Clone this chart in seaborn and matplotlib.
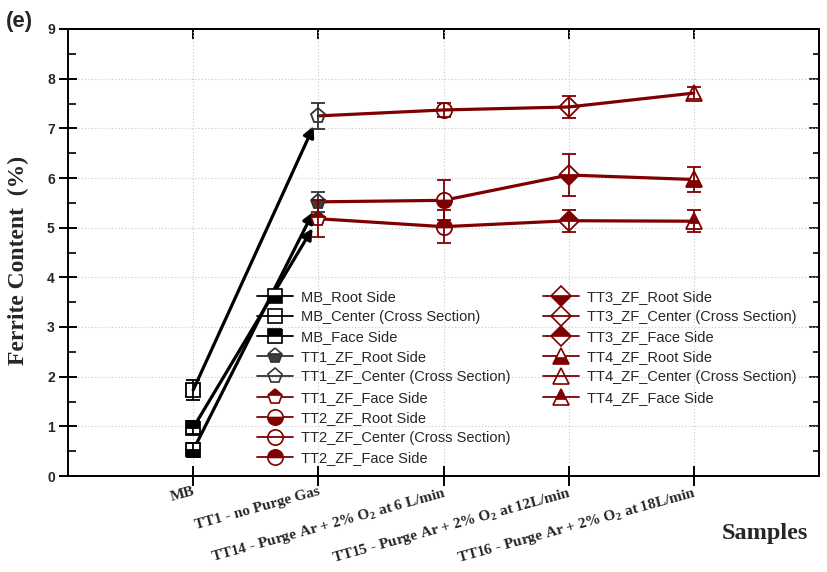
import numpy as np
import pandas as pd
import matplotlib
matplotlib.use("Agg")
import matplotlib.pyplot as plt
from matplotlib.lines import Line2D
from matplotlib.ticker import MultipleLocator
import seaborn as sns

# ---- data -------------------------------------------------------------
samples = ["MB", "TT1", "TT14", "TT15", "TT16"]
sample_labels = [
    "MB",
    "TT1 - no Purge Gas",
    "TT14 - Purge Ar + 2% O$_{\\mathbf{2}}$ at 6 L/min",
    "TT15 - Purge Ar + 2% O$_{\\mathbf{2}}$ at 12L/min",
    "TT16 - Purge Ar + 2% O$_{\\mathbf{2}}$ at 18L/min",
]
legend_prefix = ["MB", "TT1_ZF", "TT2_ZF", "TT3_ZF", "TT4_ZF"]
locations = ["Root Side", "Center (Cross Section)", "Face Side"]

root_vals = [0.52, 5.52, 5.55, 6.06, 5.97]
root_err = [0.14, 0.20, 0.40, 0.42, 0.26]
center_vals = [1.73, 7.25, 7.37, 7.43, 7.71]
center_err = [0.20, 0.27, 0.15, 0.23, 0.12]
face_vals = [0.97, 5.18, 5.02, 5.14, 5.13]
face_err = [0.13, 0.37, 0.33, 0.22, 0.22]

# ---- styling ----------------------------------------------------------
sns.set_theme(style="ticks")
plt.rcParams["font.family"] = ["Liberation Sans", "DejaVu Sans"]
plt.rcParams["mathtext.fontset"] = "custom"
plt.rcParams["mathtext.rm"] = "Liberation Serif:bold"
plt.rcParams["mathtext.bf"] = "Liberation Serif:bold"

WINE = "#7f0000"
GREY = "#333333"
markers = ["s", "p", "o", "D", "^"]
msizes = [9.5, 11, 11, 10.5, 12]
fills = ["bottom", "none", "top"]


def colours(i, j):
    """Edge, fill and line colour for sample i at location j."""
    if i == 0:
        return "black", "black", "black"
    if i == 1 and j < 2:
        return GREY, "#3c3c3c", GREY
    return WINE, WINE, WINE


fig = plt.figure(figsize=(8.27, 5.72), dpi=100)
ax = fig.add_axes([68 / 827, 1 - 476 / 572, (819 - 68) / 827, (476 - 29) / 572])

x = np.arange(1, len(samples) + 1)
vals = [root_vals, center_vals, face_vals]
errs = [root_err, center_err, face_err]

# connecting lines across the purge-gas samples
df = pd.DataFrame({
    "pos": np.concatenate([x[1:]] * 3),
    "value": np.concatenate([v[1:] for v in vals]),
    "location": np.repeat(locations, len(samples) - 1),
})
sns.lineplot(data=df, x="pos", y="value", hue="location",
             palette={loc: WINE for loc in locations}, lw=2.3,
             legend=False, ax=ax, zorder=2)

# arrows from the base metal to TT1
for v in vals:
    ax.annotate("", xy=(x[1], v[1]), xytext=(x[0], v[0]),
                arrowprops=dict(arrowstyle="-|>", color="black", lw=2.3,
                                shrinkA=0, shrinkB=8, mutation_scale=16),
                zorder=3)

# markers with error bars
for j, (v, e, fs) in enumerate(zip(vals, errs, fills)):
    for i in range(len(samples)):
        ec, fc, _ = colours(i, j)
        ax.errorbar(x[i], v[i], yerr=e[i], fmt="none", ecolor=ec,
                    elinewidth=1.3, capsize=4.7, capthick=1.3, zorder=5)
        if fs == "none":
            ax.plot(x[i], v[i], marker=markers[i], ms=msizes[i],
                    mfc="none", mec=ec, mew=1.3, ls="none", zorder=4)
        else:
            ax.plot(x[i], v[i], marker=markers[i], ms=msizes[i],
                    fillstyle=fs, mfc=fc, mfcalt="white",
                    mec=ec, mew=1.3, ls="none", zorder=4)

# ---- axes -------------------------------------------------------------
ax.set_xlim(0, 6)
ax.set_ylim(0, 9)
ax.set_xticks(x)
ax.set_xticklabels(sample_labels, rotation=15.5, ha="right", va="top",
                   rotation_mode="anchor", fontfamily="Liberation Serif",
                   fontweight="bold", fontsize=11)
ax.yaxis.set_major_locator(MultipleLocator(1))
ax.yaxis.set_minor_locator(MultipleLocator(0.5))
for lab in ax.get_yticklabels():
    lab.set_fontweight("bold")
    lab.set_fontsize(10)
ax.tick_params(axis="x", direction="inout", length=14, width=1.4,
               pad=-0.5, top=False, color="black")
ax.tick_params(axis="y", which="major", direction="inout", length=13,
               width=1.4, pad=3, right=False, color="black")
ax.tick_params(axis="y", which="minor", direction="in", length=6,
               width=1.2, right=False, color="black")
for s in ax.spines.values():
    s.set_linewidth(1.4)
    s.set_color("black")

secx = ax.secondary_xaxis("top")
secx.set_xticks(x)
secx.set_xticklabels([])
secx.tick_params(direction="in", length=7, width=1.4, color="black")
secx.spines["top"].set_linewidth(1.4)

secy = ax.secondary_yaxis("right")
secy.yaxis.set_major_locator(MultipleLocator(1))
secy.yaxis.set_minor_locator(MultipleLocator(0.5))
secy.set_yticklabels([])
secy.tick_params(which="major", direction="in", length=7, width=1.2, color="black")
secy.tick_params(which="minor", direction="in", length=4, width=1.2, color="black")
secy.spines["right"].set_linewidth(1.4)

ax.grid(True, which="major", linestyle=(0, (1, 2)), color="#c8c8c8", lw=0.8)
ax.set_axisbelow(True)

ax.set_xlabel("")
ax.set_ylabel("Ferrite Content  (%)", fontfamily="Liberation Serif",
              fontweight="bold", fontsize=17)
ax.yaxis.set_label_coords(-0.052, 0.482)

fig.text(765 / 827, 1 - 534 / 572, "Samples", fontfamily="Liberation Serif",
         fontweight="bold", fontsize=17.5, ha="center", va="center")
fig.text(6 / 827, 1 - 22 / 572, "(e)", fontweight="bold", fontsize=16,
         ha="left", va="center")

# ---- legends ----------------------------------------------------------
handles = []
for i in range(len(samples)):
    for j, fs in enumerate(fills):
        ec, fc, lc = colours(i, j)
        lab = f"{legend_prefix[i]}_{locations[j]}"
        if fs == "none":
            h = Line2D([], [], color=lc, lw=1.3, marker=markers[i],
                       ms=msizes[i], mfc="none", mec=ec, mew=1.2, label=lab)
        else:
            h = Line2D([], [], color=lc, lw=1.3, marker=markers[i],
                       ms=msizes[i], fillstyle=fs, mfc=fc, mfcalt="white",
                       mec=ec, mew=1.2, label=lab)
        handles.append(h)

common = dict(frameon=False, fontsize=10.5, handlelength=2.5,
              handletextpad=0.5, labelspacing=0.42, borderpad=0,
              borderaxespad=0, bbox_transform=fig.transFigure)
leg1 = ax.legend(handles=handles[:9], loc="upper left",
                 bbox_to_anchor=(257 / 827, 1 - 290 / 572), **common)
ax.add_artist(leg1)
ax.legend(handles=handles[9:], loc="upper left",
          bbox_to_anchor=(543 / 827, 1 - 290 / 572), **common)

fig.savefig("out.png", dpi=100)
